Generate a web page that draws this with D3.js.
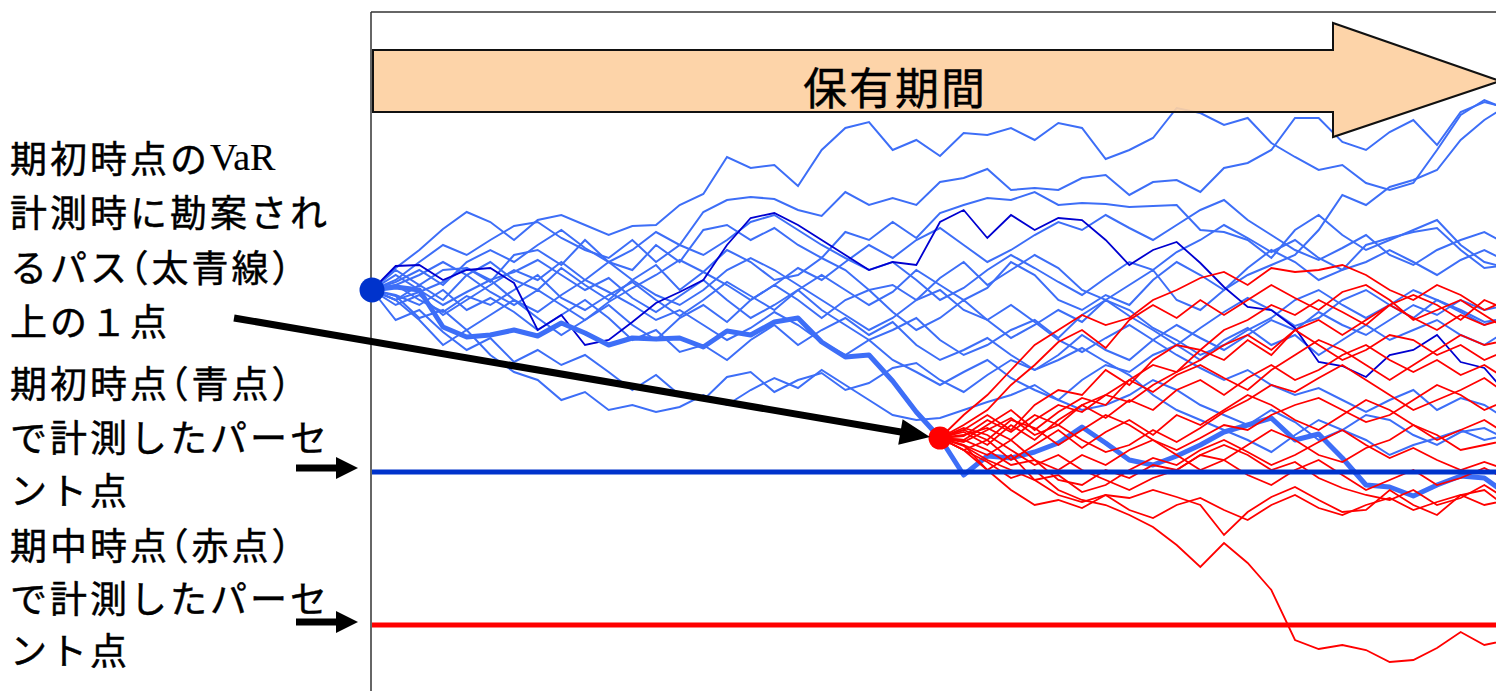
<!DOCTYPE html>
<html><head><meta charset="utf-8">
<script src="https://cdn.jsdelivr.net/npm/d3@7/dist/d3.min.js"></script>
<style>
html,body{margin:0;padding:0;background:#fff;}
svg{display:block;}
.halt{font-feature-settings:"halt";}
</style></head>
<body>
<svg id="chart" width="1496" height="691"></svg>
<script>
// ---- data (price index, start = 100; time steps 0..48) ----
const nSteps = 48;
const redStartStep = 24;
const blueStartValue = 100.0;
const redStartValue = 85.2;
const blueVaR = 81.8;   // 期初時点で計測したパーセント点
const redVaR = 66.5;    // 期中時点で計測したパーセント点

const pathThick = [100.0,100.3,100.0,96.3,95.3,95.5,96.0,95.4,96.7,95.7,94.5,95.2,95.1,95.2,94.3,95.9,95.5,96.8,97.2,94.8,93.3,93.5,90.9,87.8,85.2,81.5,83.4,83.2,83.8,84.7,86.3,84.7,83.0,82.5,83.4,84.5,85.8,86.5,87.2,85.0,85.6,83.2,80.5,80.3,79.4,80.5,81.4,81.2,79.5];
const pathDark = [100.0,102.4,102.5,101.0,102.0,102.2,100.7,96.0,97.5,94.5,95.0,96.8,98.7,99.8,101.0,104.5,107.2,107.7,106.5,105.0,103.5,102.0,102.8,102.5,106.8,108.0,105.2,107.5,106.0,107.2,107.0,105.0,102.5,104.0,104.8,102.7,100.3,98.3,98.0,96.2,92.8,92.4,91.3,93.5,94.0,95.5,92.8,92.2,89.5];

const blueA = [100.0,102.2,104.0,106.1,107.8,106.8,105.0,107.0,107.5,106.5,105.5,106.4,106.5,108.5,109.6,113.3,112.2,112.5,110.4,114.0,116.2,116.8,114.0,115.0,113.4,115.7,115.5,116.2,115.0,116.7,116.2,113.1,114.0,115.2,118.2,117.7,116.5,117.2,114.7,113.3,112.0,112.5,110.7,110.0,110.7,114.0,117.5,119.0,118.0];
const blueB = [100.0,101.0,102.8,104.5,103.5,105.0,106.4,106.8,105.2,104.0,103.2,105.0,102.8,104.5,107.8,109.0,109.3,109.1,108.0,107.4,109.8,108.5,109.2,108.5,110.8,111.2,112.1,110.0,110.2,110.0,111.2,111.5,109.5,110.8,111.0,109.8,112.2,112.7,114.0,117.2,117.2,114.8,114.0,115.8,117.0,114.5,117.8,118.8,118.2];
const blueC = [100.0,102.0,100.5,102.0,102.2,100.8,103.5,104.0,102.5,105.0,102.8,102.0,104.5,102.8,106.0,106.5,105.0,106.2,104.5,103.2,105.8,105.0,106.8,105.2,107.7,108.5,109.2,109.0,109.8,108.5,108.7,108.6,108.3,108.4,108.5,106.0,105.8,105.0,103.2,106.0,107.5,105.5,104.0,105.0,106.0,107.0,104.5,102.8,102.2];
const blueD = [100.0,99.0,100.5,99.0,101.5,102.8,101.0,100.0,102.2,100.5,99.0,101.0,102.5,100.0,101.8,104.0,102.8,101.0,101.5,103.2,102.0,100.0,100.5,99.0,101.2,102.8,100.5,102.0,103.5,102.2,100.0,99.0,100.5,102.0,99.0,98.0,100.0,101.5,102.5,103.5,106.0,109.5,108.5,110.3,111.0,112.0,115.0,117.0,118.5];
const blueE = [100.0,100.5,99.0,97.8,99.4,98.5,100.0,101.5,99.2,98.0,99.5,100.8,99.0,97.4,99.0,100.8,99.4,98.0,100.0,101.5,100.0,98.5,99.8,102.0,100.5,99.0,100.2,102.8,101.5,99.0,98.0,99.5,98.5,101.0,102.8,101.5,100.0,102.2,104.0,102.8,101.0,102.0,104.5,105.2,105.8,106.2,104.0,102.2,102.5];
const blueF = [100.0,99.4,97.2,98.0,96.0,97.5,99.0,97.2,95.5,97.0,98.5,96.5,95.0,97.2,98.5,96.8,99.0,100.5,99.0,97.2,99.0,100.0,97.8,96.0,97.2,99.0,97.0,95.2,96.5,98.0,96.8,99.0,97.4,96.0,94.5,96.2,97.8,99.2,98.0,96.4,97.2,99.0,100.0,98.5,97.2,99.0,98.0,96.8,97.2];
const blueG = [100.0,99.0,97.0,94.5,96.0,93.5,91.8,91.0,89.0,89.8,88.0,88.5,87.8,88.3,89.5,88.5,90.0,91.2,90.2,92.0,90.5,89.0,87.5,87.0,87.2,88.0,88.8,89.5,90.5,89.0,91.0,92.5,91.8,93.5,94.5,93.0,95.0,96.2,94.5,95.5,93.5,95.0,96.5,95.0,96.0,97.0,95.5,94.5,96.0];
const blueH = [100.0,97.0,98.0,95.8,94.0,95.2,92.8,94.0,92.5,93.5,91.8,90.0,91.5,89.5,89.0,91.3,91.8,89.8,91.0,91.7,90.0,90.7,92.2,92.7,91.0,89.8,91.5,93.0,92.0,93.5,95.5,94.0,93.0,95.0,96.5,95.2,94.0,95.5,97.0,96.0,97.8,96.5,95.5,97.0,98.5,97.5,99.0,98.0,98.5];
const blueI = [100.0,99.5,98.5,100.0,98.0,99.2,97.8,96.0,97.5,99.0,97.2,95.0,96.0,93.8,94.5,93.0,95.0,96.5,94.5,96.0,97.2,95.5,96.8,94.5,93.0,94.0,95.2,93.5,92.0,93.0,94.2,92.8,91.5,89.5,88.0,87.0,86.0,85.0,83.8,85.5,87.0,86.0,85.0,83.5,84.5,85.2,86.0,85.0,85.5];
const blueJ = [100.0,100.8,102.0,100.5,102.8,104.0,102.8,104.5,106.0,104.2,102.8,104.0,105.8,104.5,103.5,105.0,106.8,107.5,106.0,104.5,103.2,102.0,102.8,101.0,99.0,100.2,102.0,103.5,102.2,100.8,99.5,101.2,102.8,102.0,103.8,105.0,106.5,105.2,103.8,105.0,103.2,102.0,102.8,104.0,102.8,101.5,103.0,104.0,102.8];
const blueK = [100.0,101.5,100.0,98.5,99.8,101.0,99.0,97.8,99.5,101.0,102.8,101.0,99.5,98.5,100.0,102.0,103.2,102.0,100.5,99.0,97.5,96.0,97.2,99.0,100.0,98.0,97.0,98.5,96.8,95.0,93.8,95.2,96.5,95.0,93.5,92.2,91.0,92.0,90.5,89.5,90.2,89.0,87.8,89.0,90.0,88.0,89.2,88.5,87.0];
const blueL = [100.0,98.5,99.5,97.5,99.0,100.5,102.0,101.0,102.8,101.0,99.8,98.5,97.0,98.0,96.5,95.0,96.2,97.8,96.5,94.8,93.5,95.0,93.0,91.8,90.5,91.8,93.0,91.2,90.0,89.0,88.0,88.5,89.5,91.0,90.0,88.5,87.5,86.5,88.0,86.8,85.0,86.0,87.5,87.0,85.5,84.5,85.8,86.2,85.0];
const blueM = [100.0,100.5,101.5,102.8,101.5,99.8,98.5,100.0,98.5,97.0,98.8,100.2,101.5,103.0,101.8,100.5,99.0,100.5,102.2,101.0,102.8,104.5,103.2,105.0,106.2,104.5,102.8,104.0,105.5,106.8,106.0,107.5,106.2,105.0,106.5,108.0,109.0,107.0,105.5,104.0,103.0,104.2,105.5,103.5,102.5,104.0,105.0,105.8,104.5];
const blueN = [100.0,99.0,99.8,100.8,102.2,101.0,101.8,103.0,101.5,100.0,101.2,99.2,97.8,99.4,101.0,99.0,97.2,98.5,100.0,98.0,96.5,95.0,96.0,97.2,95.0,93.5,94.5,96.0,97.0,95.2,97.5,99.0,98.0,96.2,95.0,93.5,94.5,96.0,97.2,99.0,100.0,98.5,97.2,98.5,100.0,99.0,97.8,96.5,97.5];

// red paths start at step 24 from the red point
const red01 = [85.2,84.0,82.8,81.2,82.0,80.0,79.0,78.5,77.5,76.3,74.5,72.3,74.7,72.7,70.0,65.0,64.1,64.5,64.0,62.8,63.0,64.2,65.8,64.5,65.0];
const red02 = [85.2,84.5,82.0,83.5,81.0,79.5,78.8,79.5,79.2,80.0,79.3,78.5,75.5,77.8,79.3,80.3,79.0,77.8,78.0,80.0,78.5,77.5,79.5,80.0,78.2];
const red03 = [85.2,87.5,89.5,92.0,94.5,96.0,97.5,96.5,97.2,99.0,100.0,101.2,101.8,100.5,102.2,101.8,102.0,102.5,101.5,100.0,99.0,100.5,99.5,98.0,99.0];
const red04 = [85.2,86.5,88.0,90.5,92.5,94.8,96.0,94.2,97.0,98.5,97.2,99.0,97.5,99.0,100.5,99.2,98.0,99.8,100.5,99.0,97.0,98.0,99.0,97.5,96.0];
const red05 = [85.2,86.0,87.5,86.0,88.5,90.0,89.5,92.0,90.5,93.0,94.5,94.0,96.0,97.0,98.5,97.5,99.0,97.8,96.5,98.5,99.5,98.5,97.0,99.0,98.0];
const red06 = [85.2,85.0,86.5,88.0,86.0,87.8,89.2,88.5,91.0,92.5,91.8,94.0,93.0,95.0,93.5,96.0,94.5,93.0,94.0,95.5,95.0,93.5,94.5,93.0,94.0];
const red07 = [85.2,85.8,84.5,86.5,85.0,87.0,88.5,87.2,89.0,88.0,90.0,91.0,89.5,91.2,92.5,91.0,92.0,93.5,94.5,93.0,91.8,93.0,91.5,92.5,91.0];
const red08 = [85.2,84.0,85.0,83.0,84.5,86.0,84.2,85.8,87.0,85.5,87.5,86.5,88.0,89.5,88.5,87.0,86.0,87.5,89.0,88.0,86.5,85.0,86.0,87.0,85.5];
const red09 = [85.2,84.5,83.5,85.0,83.0,82.0,83.5,82.5,84.0,85.0,83.5,82.0,83.0,84.5,86.0,85.0,83.5,82.8,84.2,85.0,86.5,85.5,84.0,84.5,85.0];
const red10 = [85.2,85.0,84.0,82.5,83.0,81.0,80.5,82.0,81.2,82.5,82.0,83.5,83.0,81.5,80.5,82.0,83.0,81.5,80.0,81.0,82.0,80.5,81.2,82.2,81.0];
const red11 = [85.2,85.5,86.2,85.0,87.0,88.5,87.8,89.5,91.0,89.8,91.5,92.5,91.2,90.0,92.0,93.5,95.0,94.0,92.5,91.0,92.5,94.0,95.5,94.5,95.0];
const red12 = [85.2,84.8,86.0,87.2,85.5,86.5,85.0,83.8,84.5,86.0,84.8,86.2,87.8,89.0,90.5,89.8,91.2,92.5,91.0,89.5,88.0,89.0,90.0,91.2,89.5];
const red13 = [85.2,86.2,85.5,84.0,82.5,83.5,82.0,81.0,80.0,81.2,82.0,83.5,84.5,83.5,82.0,82.8,81.2,80.2,79.5,79.0,80.0,78.5,79.2,80.5,79.0];
const red14 = [85.2,85.4,87.0,85.8,87.5,86.5,88.5,89.5,88.8,90.5,91.8,93.0,94.5,95.5,94.0,96.0,97.0,95.5,97.0,98.5,97.2,96.0,97.5,96.5,97.2];
const red15 = [85.2,84.4,83.0,82.0,81.0,81.5,79.8,80.5,82.0,83.2,82.5,84.0,85.0,83.8,82.5,83.5,84.8,86.0,84.5,83.2,84.2,83.0,82.0,82.8,82.0];
const red16 = [85.2,86.0,85.0,87.0,86.2,84.5,86.0,87.5,86.5,85.0,84.0,85.2,86.5,86.0,87.5,88.5,89.2,88.0,86.8,87.5,89.0,90.5,89.5,88.0,89.0];
const red17 = [85.2,84.0,82.0,80.0,78.5,79.0,78.2,79.5,78.0,77.2,78.5,79.2,78.0,77.0,78.5,79.5,78.2,77.5,78.5,79.2,78.0,78.8,79.5,78.5,79.0];

const titleText = "保有期間";
const noteLines = [
  "期初時点の|VaR",
  "計測時に勘案され",
  "るパス（太青線）",
  "上の１点",
  "期初時点（青点）",
  "で計測したパーセ",
  "ント点",
  "期中時点（赤点）",
  "で計測したパーセ",
  "ント点"
];

// ---- drawing ----
const svg = d3.select("#chart");
const W = 1496, H = 691;
const x = d3.scaleLinear().domain([0, nSteps]).range([372, 1508]);
const y = d3.scaleLinear().domain([129, 60]).range([0, 690]);

const bluePaths = [blueA, blueB, blueC, blueD, blueE, blueF, blueG, blueH, blueI, blueJ, blueK, blueL, blueM, blueN];
const redPaths = [red01, red02, red03, red04, red05, red06, red07, red08, red09, red10, red11, red12, red13, red14, red15, red16, red17];

svg.append("defs").append("clipPath").attr("id", "plotclip")
  .append("rect").attr("x", 372).attr("y", 13).attr("width", W - 372).attr("height", H - 13);

const plot = svg.append("g").attr("clip-path", "url(#plotclip)");

const lineFrom = (offset) => d3.line().x((d, i) => x(i + offset)).y(d => y(d));

const lightBlue = "#3D6EF7";
plot.selectAll("path.blue").data(bluePaths).join("path")
  .attr("class", "blue").attr("d", lineFrom(0))
  .attr("fill", "none").attr("stroke", lightBlue).attr("stroke-width", 2);

plot.append("path").attr("d", lineFrom(0)(pathDark))
  .attr("fill", "none").attr("stroke", "#0000D0").attr("stroke-width", 1.8);

plot.append("path").attr("d", lineFrom(0)(pathThick))
  .attr("fill", "none").attr("stroke", lightBlue).attr("stroke-width", 5).attr("stroke-linejoin", "round");

plot.selectAll("path.red").data(redPaths).join("path")
  .attr("class", "red").attr("d", lineFrom(redStartStep))
  .attr("fill", "none").attr("stroke", "#FF0000").attr("stroke-width", 1.8);

// percentile lines
plot.append("line").attr("x1", x(0)).attr("x2", W).attr("y1", y(blueVaR)).attr("y2", y(blueVaR))
  .attr("stroke", "#0033CC").attr("stroke-width", 5);
plot.append("line").attr("x1", x(0)).attr("x2", W).attr("y1", y(redVaR)).attr("y2", y(redVaR))
  .attr("stroke", "#FF0000").attr("stroke-width", 5);

// holding period arrow banner
const bx0 = 373, bx1 = 1333, by0 = 50, by1 = 112, hy0 = 23, hy1 = 137, tipX = 1500, tipY = 81;
svg.append("path")
  .attr("d", `M${bx0},${by0} L${bx1},${by0} L${bx1},${hy0} L${tipX},${tipY} L${bx1},${hy1} L${bx1},${by1} L${bx0},${by1} Z`)
  .attr("fill", "#FDD0A2").attr("fill-opacity", 0.92)
  .attr("stroke", "#111").attr("stroke-width", 2);
svg.append("text").attr("x", 895).attr("y", 86)
  .attr("text-anchor", "middle").attr("dominant-baseline", "central")
  .attr("font-family", "'Noto Sans CJK JP', sans-serif").attr("font-size", 44)
  .attr("letter-spacing", 2)
  .attr("stroke", "#000").attr("stroke-width", 0.4)
  .attr("fill", "#000").text(titleText);

// frame
svg.append("line").attr("x1", 371).attr("x2", 371).attr("y1", 12).attr("y2", H)
  .attr("stroke", "#333").attr("stroke-width", 1.5);
svg.append("line").attr("x1", 371).attr("x2", W).attr("y1", 12).attr("y2", 12)
  .attr("stroke", "#333").attr("stroke-width", 1.5);

// points
svg.append("circle").attr("cx", x(0)).attr("cy", y(blueStartValue)).attr("r", 12.5).attr("fill", "#0033CC");
svg.append("circle").attr("cx", x(redStartStep)).attr("cy", y(redStartValue)).attr("r", 11.5).attr("fill", "#FF0000");

// arrows
function arrow(x1, y1, x2, y2, w, headLen, headHalf) {
  const ang = Math.atan2(y2 - y1, x2 - x1);
  const bx = x2 - headLen * Math.cos(ang), by = y2 - headLen * Math.sin(ang);
  svg.append("line").attr("x1", x1).attr("y1", y1).attr("x2", bx + 2 * Math.cos(ang)).attr("y2", by + 2 * Math.sin(ang))
    .attr("stroke", "#000").attr("stroke-width", w);
  const px = -Math.sin(ang) * headHalf, py = Math.cos(ang) * headHalf;
  svg.append("path").attr("d", `M${x2},${y2} L${bx + px},${by + py} L${bx - px},${by - py} Z`).attr("fill", "#000");
}
arrow(234, 318, x(redStartStep) - 10, y(redStartValue) - 1, 7, 30, 13);
arrow(296, 468, 358, 468, 7, 22, 11);
arrow(296, 622, 358, 622, 7, 22, 11);

// left notes
const lineY = [157, 211, 266, 320, 382, 436, 489, 544, 597, 649];
noteLines.forEach((line, i) => {
  const t = svg.append("text").attr("x", 10).attr("y", lineY[i])
    .attr("dominant-baseline", "central")
    .attr("font-family", "'Noto Sans CJK JP', sans-serif").attr("font-size", 37)
    .attr("letter-spacing", 3)
    .attr("stroke", "#000").attr("stroke-width", 0.45).attr("fill", "#000");
  const [jp, latin] = line.split("|");
  // full-width parentheses use half-width alternates (proportional look)
  jp.split(/([（）])/).filter(s => s.length).forEach(seg => {
    const ts = t.append("tspan").text(seg);
    if (seg === "（" || seg === "）") ts.attr("class", "halt");
  });
  if (latin) t.append("tspan").attr("font-family", "'Liberation Serif', serif").attr("font-size", 38)
    .attr("letter-spacing", 0).attr("stroke-width", 0.2).text(latin);
});
</script>
</body></html>
